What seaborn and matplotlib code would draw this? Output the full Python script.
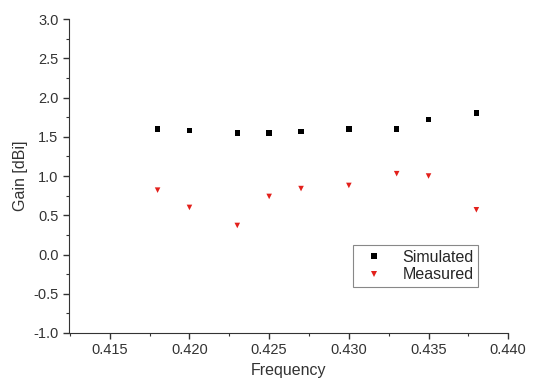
import numpy as np
import pandas as pd
import seaborn as sns
from matplotlib import pyplot as plt
from matplotlib.ticker import MultipleLocator

# data
freq = [0.418, 0.420, 0.423, 0.425, 0.427, 0.430, 0.433, 0.435, 0.438]
simulated = [1.60, 1.58, 1.55, 1.55, 1.57, 1.60, 1.60, 1.72, 1.80]
measured = [0.82, 0.60, 0.37, 0.74, 0.84, 0.88, 1.03, 1.00, 0.57]

df = pd.DataFrame({
    "Frequency": freq * 2,
    "Gain": simulated + measured,
    "Series": ["Simulated"] * len(freq) + ["Measured"] * len(freq),
})

sns.set_style("ticks")
plt.rcParams['font.family'] = ['Liberation Sans', 'DejaVu Sans']

fig = plt.figure(figsize=(5.43, 3.81), dpi=100)
ax = fig.add_axes([0.127, 0.126, 0.809, 0.824])

sns.scatterplot(data=df, x="Frequency", y="Gain", hue="Series", style="Series",
                palette={"Simulated": "black", "Measured": "#e3201b"},
                markers={"Simulated": "s", "Measured": "v"},
                s=16, linewidth=0, ax=ax)

ax.set_xlim(0.41244, 0.440)
ax.set_ylim(-1.0, 3.0)
ax.xaxis.set_major_locator(MultipleLocator(0.005))
ax.xaxis.set_minor_locator(MultipleLocator(0.0025))
ax.yaxis.set_major_locator(MultipleLocator(0.5))
ax.yaxis.set_minor_locator(MultipleLocator(0.25))
ax.xaxis.set_major_formatter(plt.FuncFormatter(lambda v, p: f"{v:.3f}"))
ax.yaxis.set_major_formatter(plt.FuncFormatter(lambda v, p: f"{v:.1f}"))
ax.tick_params(which="major", length=4, width=1, labelsize=10.5, colors="#333333")
ax.tick_params(which="minor", length=2.5, width=0.8, colors="#333333")
for side in ["top", "right"]:
    ax.spines[side].set_visible(False)
for side in ["left", "bottom"]:
    ax.spines[side].set_color("#333333")

ax.set_xlabel("Frequency", fontsize=11.5, color="#333333")
ax.set_ylabel("Gain [dBi]", fontsize=11.5, color="#333333")

leg = ax.legend(loc="lower right", bbox_to_anchor=(0.932, 0.146), borderaxespad=0,
                fontsize=11.5, fancybox=False, framealpha=1, edgecolor="#888888",
                handletextpad=0.8, borderpad=0.3, labelspacing=0.15,
                markerscale=1.0)
leg.get_frame().set_linewidth(0.8)

fig.savefig("out.png", dpi=100)
